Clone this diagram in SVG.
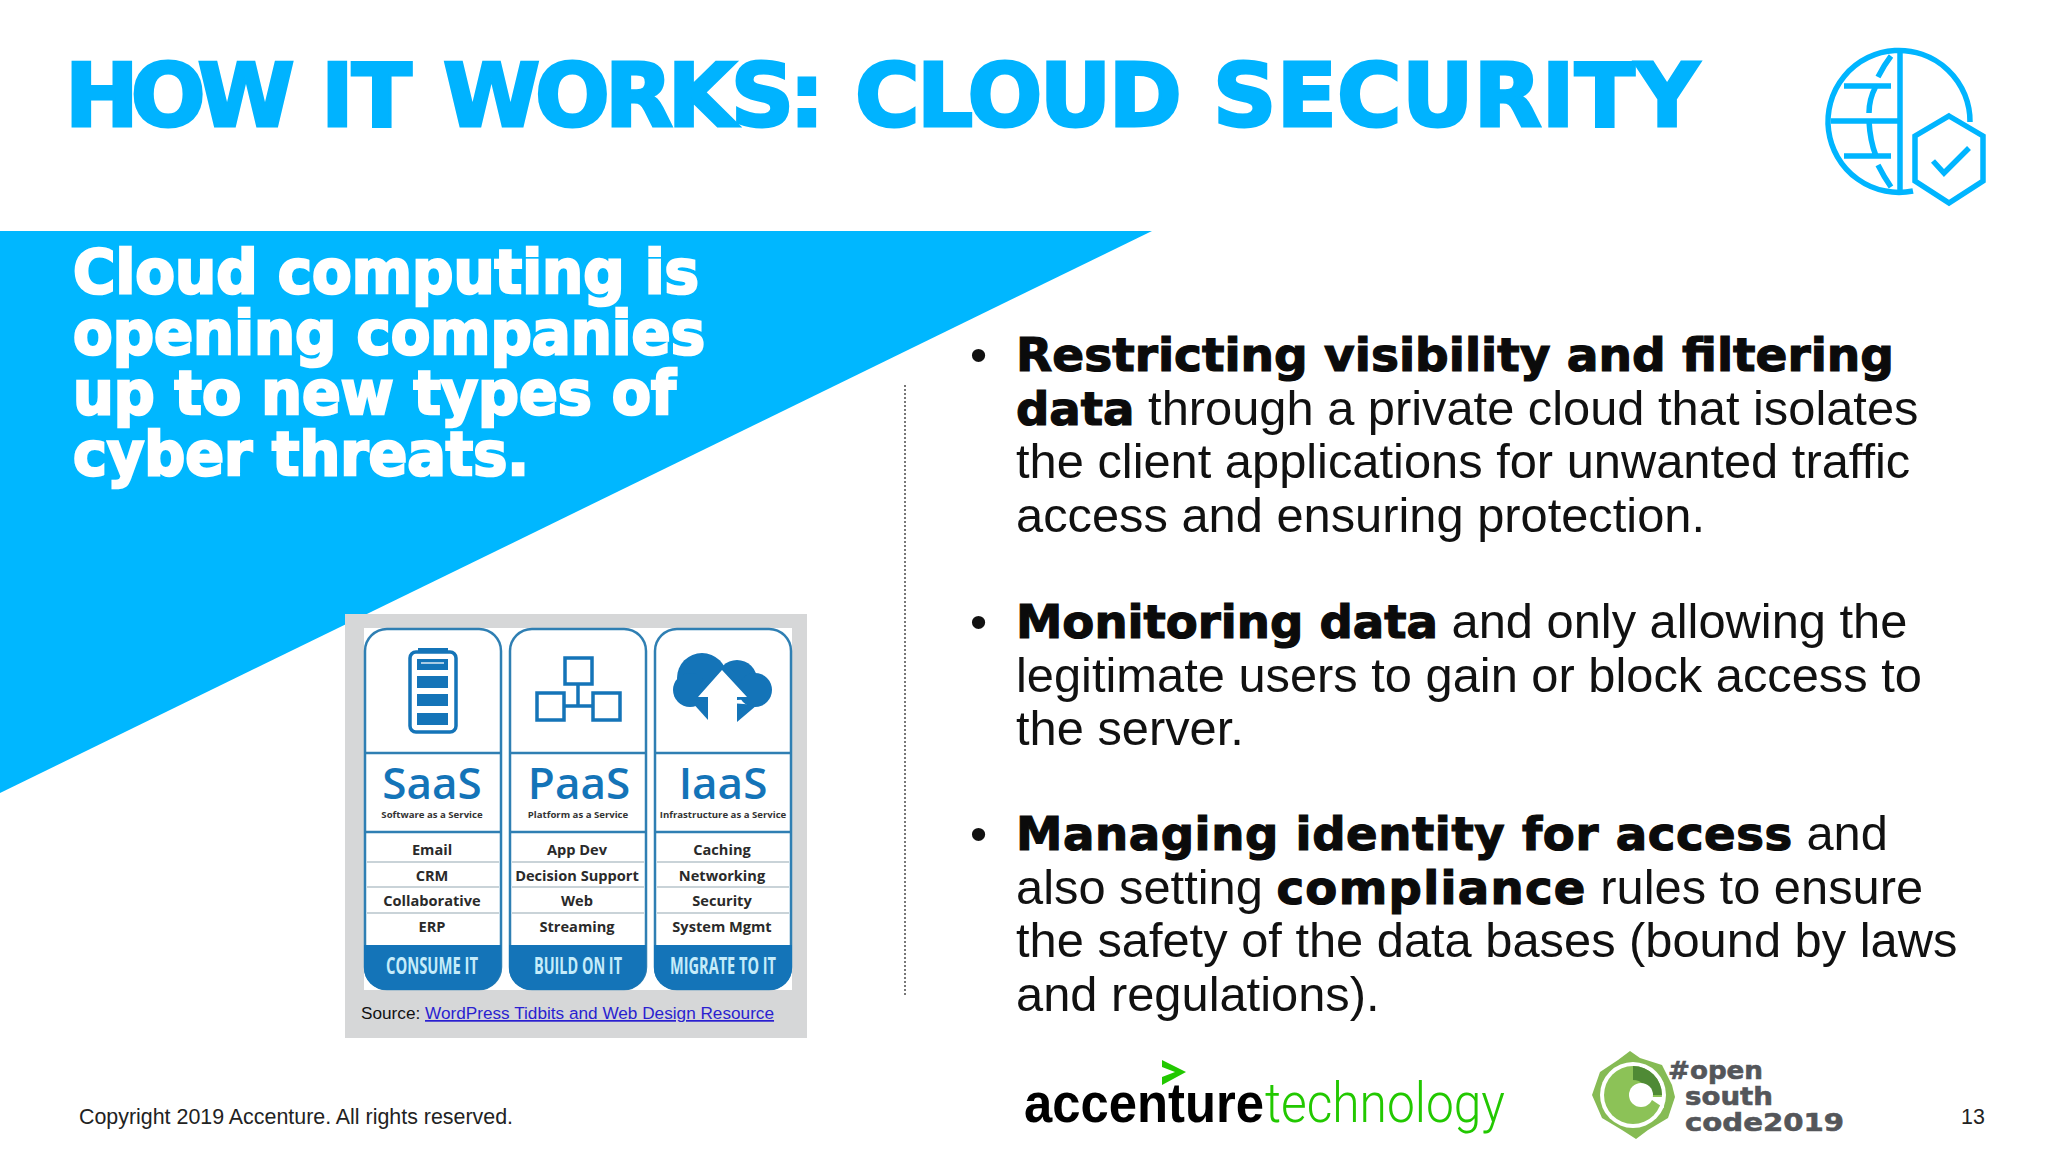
<svg xmlns="http://www.w3.org/2000/svg" width="2048" height="1152" viewBox="0 0 2048 1152">
<style>
.b{font-family:"Liberation Sans",Arial,sans-serif;font-size:48.8px;fill:#111}
.h{font-family:"DejaVu Sans",sans-serif;font-weight:700;font-size:46.6px;fill:#0b0b0b;stroke:#0b0b0b;stroke-width:1.2px}
.w{font-family:"DejaVu Sans",sans-serif;font-weight:700;font-size:61px;fill:#fff;stroke:#fff;stroke-width:2.6px}
.col{fill:#fff;stroke:#2f7fb3;stroke-width:2.5}
.div{stroke:#2f7fb3;stroke-width:2.5}
.sep{stroke:#c9d3d8;stroke-width:2}
.big{font-family:"Open Sans",sans-serif;font-weight:600;font-size:44px;fill:#1474b8;text-anchor:middle}
.sub{font-family:"Open Sans",sans-serif;font-weight:700;font-size:9.6px;fill:#333;text-anchor:middle}
.it{font-family:"Open Sans",sans-serif;font-weight:700;font-size:14.6px;fill:#2a2a2a;text-anchor:middle}
.ft{font-family:"Open Sans",sans-serif;font-weight:700;font-size:23px;fill:#c5ecfa;text-anchor:middle}
.ic{fill:none;stroke:#1474b8;stroke-width:3.5}
.g{fill:none;stroke:#00b5ff;stroke-width:5.5}
.ln{font-family:"DejaVu Sans",sans-serif;font-weight:700;fill:#54565a;font-size:25px;stroke:#54565a;stroke-width:.6px}
.sm{font-family:"Liberation Sans",Arial,sans-serif;font-size:21.4px;fill:#222}
</style>
<rect width="2048" height="1152" fill="#fff"/>
<g id="title"><text y="126" font-family="'DejaVu Sans',sans-serif" font-weight="700" font-size="88" fill="#00b3ff" stroke="#00b3ff" stroke-width="3"><tspan x="65" letter-spacing="-8">HOW</tspan><tspan x="321" letter-spacing="-2">IT</tspan><tspan x="443" letter-spacing="-5">WORKS:</tspan><tspan x="855" letter-spacing="-2.5">CLOUD</tspan><tspan x="1213" letter-spacing="0.3">SECURITY</tspan></text></g>
<g id="globe-icon" transform="translate(1 1)">
<path class="g" d="M1969 121A71 71 0 1 0 1912 190"/>
<path class="g" d="M1899 50V190M1843 85H1890M1830 120H1899M1843 155H1890M1890 55Q1883 64 1877 76M1875 85Q1868 98 1868 112M1868 120Q1869 140 1875 155M1877 164Q1883 176 1890 186"/>
<path class="g" d="M1948 115L1982 135V180L1948 202L1914 180V135Z"/>
<path class="g" d="M1932 160L1943 172L1968 147"/>
</g>
<g id="banner">
<polygon points="0,231 1152,231 0,793" fill="#00b7ff"/>
<text class="w" x="73" y="293" textLength="626" lengthAdjust="spacingAndGlyphs">Cloud computing is</text>
<text class="w" x="73" y="354" textLength="632" lengthAdjust="spacingAndGlyphs">opening companies</text>
<text class="w" x="73" y="414" textLength="603" lengthAdjust="spacingAndGlyphs">up to new types of</text>
<text class="w" x="73" y="475" textLength="456" lengthAdjust="spacingAndGlyphs">cyber threats.</text>
</g>
<line id="divider" x1="905" y1="385" x2="905" y2="997" stroke="#777" stroke-width="2" stroke-dasharray="2 2"/>
<g id="service-models">
<rect x="345" y="614" width="462" height="424" fill="#d6d7d8"/>
<rect x="364" y="628" width="428" height="362" fill="#fff"/>
<g id="saas">
<rect class="col" x="365" y="629" width="136" height="360" rx="22"/>
<path d="M364 945H501V968A22 22 0 0 1 479 990H386A22 22 0 0 1 364 968Z" fill="#1474b8"/>
<line class="div" x1="365" y1="753" x2="501" y2="753"/><line class="div" x1="365" y1="832" x2="501" y2="832"/>
<path class="sep" d="M367 862H499M367 887H499M367 913H499"/>
<rect class="ic" x="410" y="652" width="46" height="80" rx="6"/>
<rect x="418" y="648" width="30" height="4" fill="#1474b8"/>
<path fill="#1474b8" d="M417 659h31v11h-31zM417 676h31v12h-31zM417 694h31v12h-31zM417 713h31v12h-31z"/>
<line x1="421" y1="663" x2="444" y2="663" stroke="#dbe9f3" stroke-width="1.5"/>
<text class="big" x="432" y="799">SaaS</text>
<text class="sub" x="432" y="818">Software as a Service</text>
<text class="it" x="432" y="855">Email</text><text class="it" x="432" y="881">CRM</text><text class="it" x="432" y="906">Collaborative</text><text class="it" x="432" y="932">ERP</text>
<text class="ft" x="432" y="974" textLength="92" lengthAdjust="spacingAndGlyphs">CONSUME IT</text>
</g>
<g id="paas">
<rect class="col" x="510" y="629" width="136" height="360" rx="22"/>
<path d="M509 945H646V968A22 22 0 0 1 624 990H531A22 22 0 0 1 509 968Z" fill="#1474b8"/>
<line class="div" x1="510" y1="753" x2="646" y2="753"/><line class="div" x1="510" y1="832" x2="646" y2="832"/>
<path class="sep" d="M512 862H644M512 887H644M512 913H644"/>
<path class="ic" d="M565 658h27v26h-27zM537 693h27v27h-27zM593 693h27v27h-27zM578 684V706M564 706H593"/>
<text class="big" x="579" y="799">PaaS</text>
<text class="sub" x="578" y="818">Platform as a Service</text>
<text class="it" x="577" y="855">App Dev</text><text class="it" x="577" y="881">Decision Support</text><text class="it" x="577" y="906">Web</text><text class="it" x="577" y="932">Streaming</text>
<text class="ft" x="578" y="974" textLength="88" lengthAdjust="spacingAndGlyphs">BUILD ON IT</text>
</g>
<g id="iaas">
<rect class="col" x="655" y="629" width="136" height="360" rx="22"/>
<path d="M654 945H792V968A22 22 0 0 1 770 990H676A22 22 0 0 1 654 968Z" fill="#1474b8"/>
<line class="div" x1="655" y1="753" x2="791" y2="753"/><line class="div" x1="655" y1="832" x2="791" y2="832"/>
<path class="sep" d="M657 862H789M657 887H789M657 913H789"/>
<g fill="#1474b8"><circle cx="702" cy="678" r="25"/><circle cx="737" cy="680" r="20"/><circle cx="755" cy="690" r="17"/><circle cx="690" cy="690" r="17"/><polygon points="690,700 757,705 737,722 708,720"/></g>
<polygon fill="#fff" points="722,670 747,697 737,697 737,724 708,724 708,697 698,697"/>
<text class="big" x="723" y="799">IaaS</text>
<text class="sub" x="723" y="818">Infrastructure as a Service</text>
<text class="it" x="722" y="855">Caching</text><text class="it" x="722" y="881">Networking</text><text class="it" x="722" y="906">Security</text><text class="it" x="722" y="932">System Mgmt</text>
<text class="ft" x="723" y="974" textLength="106" lengthAdjust="spacingAndGlyphs">MIGRATE TO IT</text>
</g>
<text x="361" y="1019" font-family="'Liberation Sans',Arial,sans-serif" font-size="17.2" fill="#111">Source: <tspan fill="#2a1fd0" text-decoration="underline">WordPress Tidbits and Web Design Resource</tspan></text>
</g>
<g id="bullets">
<text class="b" x="970" y="371" font-size="44">•</text>
<text class="h" x="1016" y="371" textLength="878" lengthAdjust="spacingAndGlyphs">Restricting visibility and filtering</text>
<text x="1016" y="425"><tspan class="h">data</tspan><tspan class="b"> through a private cloud that isolates</tspan></text>
<text class="b" x="1016" y="478">the client applications for unwanted traffic</text>
<text class="b" x="1016" y="532">access and ensuring protection.</text>
<text class="b" x="970" y="638" font-size="44">•</text>
<text x="1016" y="638"><tspan class="h">Monitoring data</tspan><tspan class="b"> and only allowing the</tspan></text>
<text class="b" x="1016" y="692">legitimate users to gain or block access to</text>
<text class="b" x="1016" y="745">the server.</text>
<text class="b" x="970" y="850" font-size="44">•</text>
<text x="1016" y="850"><tspan class="h" letter-spacing="0.57">Managing identity for access</tspan><tspan class="b"> and</tspan></text>
<text x="1016" y="904"><tspan class="b">also setting </tspan><tspan class="h" letter-spacing="1.3">compliance</tspan><tspan class="b"> rules to ensure</tspan></text>
<text class="b" x="1016" y="957">the safety of the data bases (bound by laws</text>
<text class="b" x="1016" y="1011">and regulations).</text>
</g>
<g id="footer">
<text class="sm" x="79" y="1124">Copyright 2019 Accenture. All rights reserved.</text>
<text class="sm" x="1961" y="1124">13</text>
</g>
<g id="accenture-logo">
<polygon points="1162,1060 1186,1072 1162,1085 1162,1077 1175,1072 1162,1067" fill="#22c800"/>
<text x="1024" y="1122" textLength="240" lengthAdjust="spacingAndGlyphs" font-family="'Liberation Sans',Arial,sans-serif" font-weight="700" font-size="56" fill="#000">accenture</text>
<text x="1265" y="1122" textLength="240" lengthAdjust="spacingAndGlyphs" font-family="Roboto,sans-serif" font-weight="300" font-size="56" fill="#22c800">technology</text>
</g>
<g id="open-south-code-logo">
<polygon points="1630,1051 1640,1058 1662,1065 1672,1085 1675,1097 1668,1118 1648,1130 1636,1139 1622,1130 1602,1118 1592,1095 1600,1072 1618,1060" fill="#86bb54"/>
<circle cx="1633" cy="1095" r="33" fill="#fff"/>
<circle cx="1633" cy="1095" r="29" fill="#8cc257"/>
<path d="M1633 1066A29 29 0 0 1 1662 1095H1648A15 15 0 0 0 1633 1080Z" fill="#4f8a35"/>
<circle cx="1641" cy="1095" r="12" fill="#fff"/>
<path d="M1650 1097H1664V1108L1652 1100Z" fill="#fff"/>
<text class="ln" x="1668" y="1079" textLength="95" lengthAdjust="spacingAndGlyphs">#open</text>
<text class="ln" x="1685" y="1105" textLength="88" lengthAdjust="spacingAndGlyphs">south</text>
<text class="ln" x="1685" y="1131" textLength="159" lengthAdjust="spacingAndGlyphs">code2019</text>
</g>
</svg>
